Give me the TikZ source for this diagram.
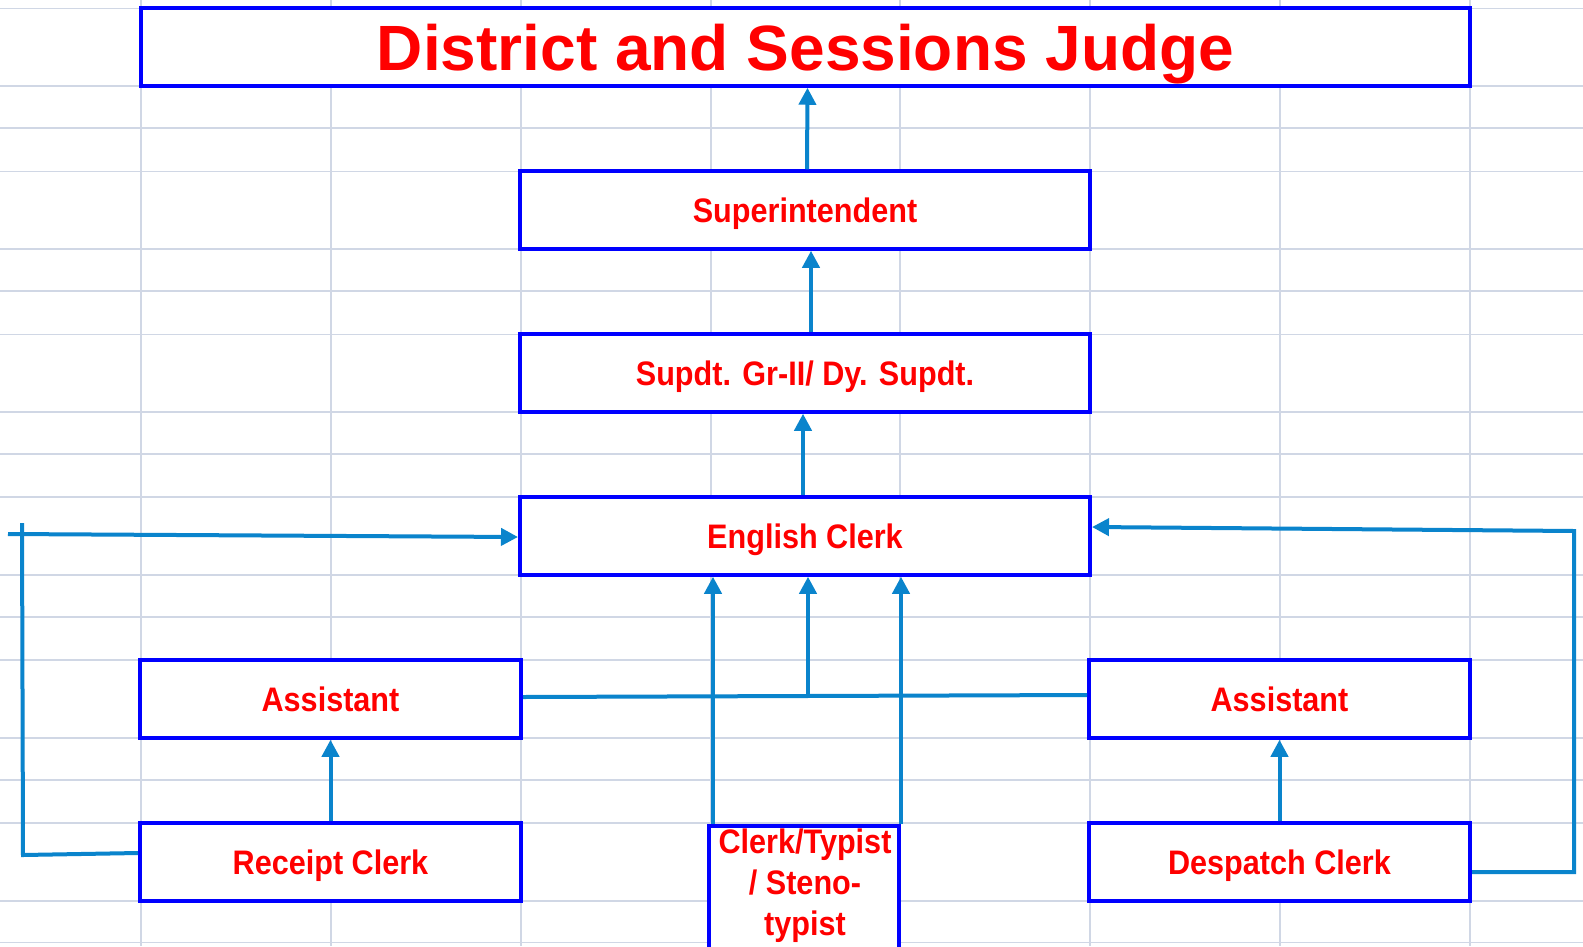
\documentclass[tikz,border=0pt]{standalone}
\usepackage{fontspec}
\setmainfont{Liberation Sans}
\newfontfamily\narrowfont[FakeStretch=0.9]{Liberation Sans}
\usetikzlibrary{arrows.meta}
\definecolor{boxblue}{RGB}{0,0,255}
\definecolor{txtred}{RGB}{255,0,0}
\definecolor{linkblue}{RGB}{10,132,204}
\definecolor{gridc}{RGB}{208,215,229}
\begin{document}
\begin{tikzpicture}[x=1pt,y=-1pt,
  box/.style={draw=boxblue, line width=4pt, fill=white, minimum height=77.5pt, inner sep=0pt, text=txtred,
    font=\narrowfont\bfseries\fontsize{34}{41}\selectfont, text height=24pt, text depth=0pt},
  lbl/.style={text=txtred, font=\narrowfont\bfseries\fontsize{34}{41}\selectfont},
  link/.style={draw=linkblue, line width=4pt},
  arr/.style={link, -{Triangle[length=17pt,width=17pt]}},
  gridline/.style={draw=gridc, line width=1.5pt}]
\useasboundingbox (0,0) rectangle (1583,946);
\fill[white] (0,0) rectangle (1583,946);
\foreach \x in {141,331,521,711,900,1090,1280,1470} \draw[gridline] (\x,0) -- (\x,946);
\foreach \y in {8.5,86,128,171.4,249,291,334.3,412,454,497.2,575,617,660,738,780,823,901,942.5} \draw[gridline] (0,\y) -- (1583,\y);

\node[box, minimum width=1329pt, font=\bfseries\fontsize{64}{77}\selectfont, text height=47pt] (title) at (805.5,47) {District and Sessions Judge};
\node[box, minimum width=570pt] (sup) at (805,210) {Superintendent};
\node[box, minimum width=570pt] (sg) at (805,373) {Supdt. Gr-II/ Dy. Supdt.};
\node[box, minimum width=570pt] (eng) at (805,536) {English Clerk};
\node[box, minimum width=381pt] (asl) at (330.5,699) {Assistant};
\node[box, minimum width=381pt] (asr) at (1279.5,699) {Assistant};
\node[box, minimum width=381pt] (rec) at (330.5,862) {Receipt Clerk};
\node[box, minimum width=381pt] (des) at (1279.5,862) {Despatch Clerk};
\node[box, minimum width=190pt, minimum height=160pt, anchor=north] (ct) at (804,824) {};
\node[lbl, align=center, anchor=north, inner sep=0pt] (ctl) at (805,829) {Clerk/Typist\\/ Steno-\\typist};

\draw[arr] ([xshift=2pt]sup.north) -- ([xshift=2pt]title.south);
\draw[arr] ([xshift=6pt]sg.north) -- ([xshift=6pt]sup.south);
\draw[arr] ([xshift=-2pt]eng.north) -- ([xshift=-2pt]sg.south);
\draw[link] ([yshift=2pt]asl.east) -- ([yshift=4pt]asr.west);
\coordinate (mj) at (808,696);
\draw[arr] (mj) -- (mj |- eng.south);
\coordinate (ctA) at ([xshift=6pt]ct.north west);
\coordinate (ctB) at (ct.north east);
\draw[arr] (ctA) -- (ctA |- eng.south);
\draw[arr] (ctB) -- (ctB |- eng.south);
\draw[arr] (rec.north) -- (asl.south);
\draw[arr] (des.north) -- (asr.south);
\coordinate (lt) at (22,523);
\coordinate (lb) at (23,855);
\draw[link] ([yshift=9pt]rec.west) -- (lb) -- (lt);
\coordinate (ls) at (8,534);
\draw[arr] (ls) -- ([yshift=-1pt]eng.west);
\coordinate (rb) at (1574,872);
\coordinate (rt) at (1574,531);
\draw[arr] ([yshift=-10pt]des.east) -- (rb) -- (rt) -- ([yshift=9pt]eng.east);
\end{tikzpicture}
\end{document}
